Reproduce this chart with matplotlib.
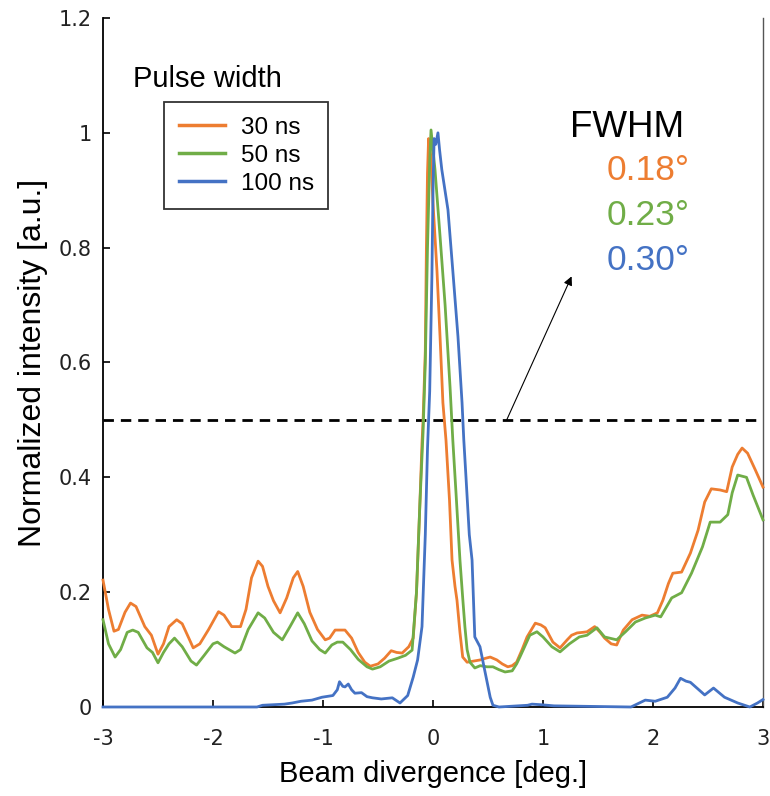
import matplotlib
matplotlib.use("Agg")
import matplotlib.pyplot as plt
from matplotlib.lines import Line2D

plt.rcParams['lines.scale_dashes'] = False

# Beam divergence profiles (deg., normalized intensity)
x_30ns = [-3.00, -2.95, -2.90, -2.86, -2.80, -2.75, -2.70, -2.62, -2.56, -2.50,
          -2.45, -2.40, -2.33, -2.28, -2.22, -2.18, -2.12, -2.04, -1.95, -1.90,
          -1.83, -1.75, -1.70, -1.65, -1.59, -1.55, -1.50, -1.45, -1.39, -1.33,
          -1.27, -1.23, -1.18, -1.12, -1.05, -0.98, -0.94, -0.89, -0.80, -0.74,
          -0.68, -0.62, -0.57, -0.50, -0.44, -0.38, -0.33, -0.28, -0.22, -0.18,
          -0.15, -0.12, -0.10, -0.09, -0.07, -0.06, -0.05, -0.04, -0.02, 0.00,
          0.036, 0.064, 0.09, 0.118, 0.15, 0.173, 0.20, 0.218, 0.245, 0.27,
          0.31, 0.37, 0.43, 0.48, 0.52, 0.58, 0.63, 0.68, 0.72, 0.76,
          0.81, 0.855, 0.93, 0.98, 1.02, 1.09, 1.155, 1.22, 1.26, 1.31,
          1.36, 1.40, 1.47, 1.52, 1.56, 1.62, 1.67, 1.73, 1.81, 1.90,
          1.97, 2.04, 2.09, 2.14, 2.18, 2.26, 2.34, 2.41, 2.47, 2.53,
          2.61, 2.67, 2.72, 2.77, 2.81, 2.86, 2.93, 3.00]
y_30ns = [0.221, 0.170, 0.132, 0.135, 0.165, 0.181, 0.175, 0.140, 0.125, 0.092,
          0.110, 0.140, 0.152, 0.145, 0.120, 0.103, 0.110, 0.135, 0.166, 0.160,
          0.140, 0.140, 0.170, 0.225, 0.254, 0.245, 0.210, 0.185, 0.164, 0.190,
          0.225, 0.236, 0.210, 0.165, 0.135, 0.117, 0.120, 0.134, 0.134, 0.120,
          0.095, 0.078, 0.071, 0.075, 0.085, 0.098, 0.095, 0.094, 0.105, 0.120,
          0.200, 0.350, 0.460, 0.500, 0.620, 0.800, 0.930, 0.990, 0.960, 0.878,
          0.760, 0.645, 0.530, 0.465, 0.360, 0.256, 0.210, 0.186, 0.130, 0.087,
          0.078, 0.080, 0.082, 0.085, 0.087, 0.082, 0.075, 0.070, 0.072, 0.078,
          0.100, 0.122, 0.146, 0.143, 0.138, 0.113, 0.103, 0.117, 0.125, 0.129,
          0.130, 0.131, 0.140, 0.130, 0.120, 0.110, 0.108, 0.134, 0.152, 0.160,
          0.158, 0.164, 0.186, 0.215, 0.233, 0.235, 0.268, 0.308, 0.357, 0.380,
          0.378, 0.375, 0.418, 0.440, 0.451, 0.442, 0.413, 0.383]

x_50ns = [-3.00, -2.95, -2.89, -2.84, -2.78, -2.73, -2.68, -2.60, -2.55, -2.50,
          -2.45, -2.40, -2.35, -2.28, -2.20, -2.15, -2.08, -2.00, -1.96, -1.90,
          -1.80, -1.75, -1.68, -1.59, -1.53, -1.45, -1.37, -1.30, -1.23, -1.17,
          -1.10, -1.03, -0.98, -0.92, -0.87, -0.82, -0.75, -0.68, -0.60, -0.55,
          -0.48, -0.40, -0.32, -0.25, -0.19, -0.15, -0.12, -0.09, -0.07, -0.05,
          -0.03, -0.018, 0.00, 0.018, 0.064, 0.11, 0.155, 0.18, 0.21, 0.245,
          0.27, 0.29, 0.31, 0.336, 0.38, 0.43, 0.49, 0.545, 0.60, 0.655,
          0.72, 0.76, 0.79, 0.84, 0.88, 0.945, 1.00, 1.08, 1.155, 1.24,
          1.33, 1.40, 1.49, 1.56, 1.67, 1.75, 1.84, 1.93, 2.02, 2.07,
          2.17, 2.26, 2.35, 2.45, 2.52, 2.61, 2.68, 2.72, 2.77, 2.85,
          2.91, 3.00]
y_50ns = [0.152, 0.110, 0.087, 0.100, 0.130, 0.134, 0.130, 0.103, 0.095, 0.077,
          0.095, 0.110, 0.120, 0.105, 0.080, 0.073, 0.090, 0.110, 0.113, 0.105,
          0.094, 0.100, 0.135, 0.164, 0.155, 0.130, 0.117, 0.140, 0.164, 0.145,
          0.115, 0.100, 0.094, 0.108, 0.113, 0.113, 0.100, 0.083, 0.070, 0.066,
          0.070, 0.080, 0.085, 0.090, 0.099, 0.200, 0.350, 0.480, 0.600, 0.800,
          0.950, 1.005, 0.970, 0.936, 0.820, 0.700, 0.557, 0.465, 0.370, 0.256,
          0.190, 0.140, 0.100, 0.078, 0.068, 0.072, 0.070, 0.070, 0.065, 0.061,
          0.063, 0.075, 0.087, 0.108, 0.125, 0.131, 0.122, 0.105, 0.096, 0.110,
          0.122, 0.125, 0.138, 0.122, 0.117, 0.131, 0.148, 0.155, 0.160, 0.157,
          0.190, 0.199, 0.233, 0.279, 0.322, 0.322, 0.335, 0.373, 0.404, 0.400,
          0.369, 0.326]

x_100ns = [-3.00, -1.60, -1.55, -1.45, -1.35, -1.28, -1.20, -1.10, -1.01, -0.91,
           -0.87, -0.85, -0.82, -0.80, -0.77, -0.74, -0.71, -0.65, -0.60, -0.55,
           -0.47, -0.37, -0.30, -0.23, -0.18, -0.14, -0.10, -0.07, -0.05, -0.03,
           -0.01, 0.00, 0.01, 0.025, 0.045, 0.06, 0.08, 0.136, 0.18, 0.227,
           0.264, 0.28, 0.30, 0.33, 0.355, 0.38, 0.427, 0.47, 0.52, 0.545,
           0.60, 0.86, 0.90, 0.98, 1.10, 1.80, 1.93, 2.02, 2.13, 2.20,
           2.25, 2.30, 2.34, 2.47, 2.55, 2.65, 2.77, 2.88, 2.95, 3.00]
y_100ns = [0.000, 0.000, 0.003, 0.004, 0.005, 0.007, 0.010, 0.012, 0.017, 0.020,
           0.030, 0.044, 0.036, 0.035, 0.040, 0.030, 0.024, 0.025, 0.018, 0.016,
           0.014, 0.016, 0.007, 0.020, 0.052, 0.082, 0.140, 0.300, 0.450, 0.550,
           0.750, 0.900, 0.990, 0.980, 1.000, 0.970, 0.936, 0.866, 0.760, 0.645,
           0.530, 0.465, 0.400, 0.300, 0.256, 0.122, 0.105, 0.064, 0.017, 0.003,
           0.000, 0.003, 0.005, 0.004, 0.002, 0.000, 0.012, 0.010, 0.017, 0.033,
           0.050, 0.045, 0.043, 0.021, 0.033, 0.017, 0.007, 0.000, 0.007, 0.013]

series_labels = ["30 ns", "50 ns", "100 ns"]
fwhm_labels = ["0.18°", "0.23°", "0.30°"]
colors = ["#ED7D31", "#70AD47", "#4472C4"]

x_ticks = [-3, -2, -1, 0, 1, 2, 3]
y_ticks = [0, 0.2, 0.4, 0.6, 0.8, 1.0, 1.2]
y_tick_labels = ["0", "0.2", "0.4", "0.6", "0.8", "1", "1.2"]
half_max = 0.5

W, H = 770, 796
fig = plt.figure(figsize=(W / 100, H / 100), dpi=100)
ax = fig.add_axes([103 / W, 1 - 707 / H, 660 / W, 689 / H])

sans = ["Liberation Sans", "DejaVu Sans"]

for xs, ys, c in zip([x_30ns, x_50ns, x_100ns], [y_30ns, y_50ns, y_100ns], colors):
    ax.plot(xs, ys, color=c, lw=2.0, clip_on=False, zorder=3,
            solid_joinstyle="round")

# Half-maximum level and pointer to the FWHM values
ax.axhline(half_max, color="black", lw=2.0, linestyle=(0, (7.5, 5)), zorder=2)
ax.annotate("", xy=(1.26, 0.75), xytext=(0.67, half_max),
            arrowprops=dict(arrowstyle="-|>", color="black", lw=0.8,
                            mutation_scale=13, shrinkA=0, shrinkB=0))

ax.set_xlim(-3, 3)
ax.set_ylim(0, 1.2)
ax.set_xticks(x_ticks)
ax.set_xticklabels([str(v) for v in x_ticks])
ax.set_yticks(y_ticks)
ax.set_yticklabels(y_tick_labels)
ax.tick_params(direction="in", length=5, width=1.2, labelsize=15,
               colors="black")
ax.tick_params(axis="x", pad=16)
ax.tick_params(axis="y", pad=8)
for lab in ax.get_xticklabels() + ax.get_yticklabels():
    lab.set_color("#222222")

ax.spines["top"].set_visible(False)
for side in ["left", "bottom"]:
    ax.spines[side].set_linewidth(1.3)
    ax.spines[side].set_color("black")
ax.spines["right"].set_linewidth(1.0)
ax.spines["right"].set_color("#555555")

ax.set_xlabel("Beam divergence [deg.]", fontsize=21, family=sans, labelpad=8)
ax.set_ylabel("Normalized intensity [a.u.]", fontsize=23, family=sans, labelpad=8)

# Legend with heading above it
handles = [Line2D([0], [0], color=c, lw=2.5) for c in colors]
leg = fig.legend(handles, series_labels, loc="upper left",
                 bbox_to_anchor=(164 / W, 1 - 102 / H),
                 prop={"family": sans, "size": 17.5}, frameon=True,
                 fancybox=False, handlelength=1.9, handletextpad=0.65,
                 labelspacing=0.25, borderpad=0.6, borderaxespad=0)
leg.get_frame().set_edgecolor("black")
leg.get_frame().set_linewidth(1.3)
fig.text(133 / W, 1 - 87 / H, "Pulse width", fontsize=21, family=sans,
         ha="left", va="baseline")

# FWHM values
fig.text(684 / W, 1 - 137 / H, "FWHM", fontsize=26.5, family=sans,
         ha="right", va="baseline", color="black")
for i, (lab, c) in enumerate(zip(fwhm_labels, colors)):
    fig.text(690 / W, 1 - (180 + 45 * i) / H, lab, fontsize=25.5, family=sans,
             ha="right", va="baseline", color=c)

fig.savefig("out.png", dpi=100)
